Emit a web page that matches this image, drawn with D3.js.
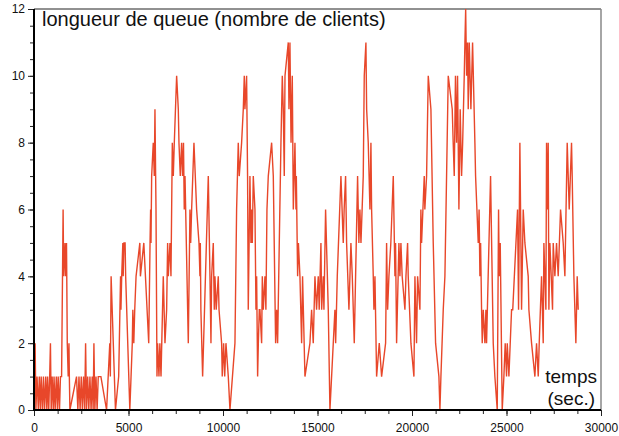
<!DOCTYPE html>
<html>
<head>
<meta charset="utf-8">
<script src="https://cdn.jsdelivr.net/npm/d3@7"></script>
<style>
  body { margin: 0; background: #fff; }
  svg { display: block; font-family: "Liberation Sans", Arial, Helvetica, sans-serif; }
</style>
</head>
<body>
<div id="chart"></div>
<script>
// Event times (seconds) and queue length after each event
const times = [
  0, 60, 100, 160, 230, 280, 340, 380, 450, 500, 560, 620, 680, 720,
  780, 830, 870, 910, 960, 1020, 1060, 1120, 1180, 1240, 1280, 1350, 1400, 1460,
  1540, 1570, 1640, 1670, 1720, 1760, 1810, 1850, 1870, 1900,
  2250, 2320, 2380, 2440, 2500, 2560, 2620, 2680, 2730, 2780, 2840,
  2900, 2960, 3020, 3080, 3130, 3170, 3220, 3280, 3340, 3400,
  3540, 3840, 4010, 4040, 4080, 4310, 4480, 4580, 4600, 4640, 4700, 4720, 4760, 4820, 4850, 5070,
  5200, 5230, 5280, 5330, 5400, 5600, 5630, 5810, 6070,
  6140, 6170, 6190, 6225, 6310, 6365, 6400, 6436, 6455, 6507, 6540, 6612, 6660, 6720,
  6840, 6930, 7018, 7070, 7106, 7194, 7247, 7318, 7370, 7423, 7547, 7635, 7670, 7740, 7810, 7860, 7910, 7950, 7990,
  8164, 8252, 8290, 8340, 8463, 8605, 8730, 8780, 8800, 8830, 8922,
  9222, 9310, 9363, 9398, 9486, 9539, 9574, 9640, 9750, 9790, 9927, 9960, 10033, 10090, 10156, 10280, 10368,
  10632, 10720, 10808, 10860, 10985, 11073, 11126, 11160, 11249, 11300, 11337, 11425, 11478, 11514, 11550, 11602,
  11691, 11744, 11780, 11832, 11870, 11920, 11955, 12044, 12080, 12132, 12220, 12270, 12326, 12396, 12573, 12661, 12784, 12840, 12890,
  13066, 13137, 13190, 13242, 13280, 13454, 13490, 13542, 13600, 13666, 13720, 13807, 13860, 13880, 13948, 13990, 14071, 14160, 14210, 14336,
  14600, 14688, 14775, 14865, 14950, 15040, 15090, 15182, 15220, 15305, 15340, 15428, 15570, 15658,
  15834, 15922, 15960, 16046, 16240, 16363, 16410, 16486, 16540, 16663, 16768, 16840, 16945,
  17121, 17190, 17244, 17300, 17421, 17474, 17562, 17600, 17685, 17730, 17774, 17827, 17863,
  17950, 17985, 18040, 18127, 18268, 18392, 18603, 18656, 18710, 18779, 18880, 19009, 19097, 19130, 19185,
  19308, 19360, 19414, 19480, 19626, 19680, 19767, 19800, 19943, 20102, 20155, 20240, 20296, 20419, 20470, 20507,
  20648, 20680, 20772, 20860, 21001, 21124, 21248, 21424, 21477, 21530, 21653, 21741, 21918,
  22129, 22180, 22235, 22300, 22358, 22410, 22482, 22550, 22623, 22680, 22764, 22800, 22840, 22887, 22940, 22975, 23030, 23116, 23205, 23328, 23364,
  23505, 23550, 23593, 23630, 23681, 23716, 23770, 23857, 23910, 23945, 24157, 24298, 24385, 24510,
  24580, 24615, 24668, 24774, 24862, 24932, 25003, 25040, 25127, 25268, 25330, 25585, 25638, 25708,
  25797, 25885, 25973, 26149, 26185, 26326, 26502, 26590, 26680, 26731, 26854, 26943, 26978, 27084,
  27119, 27155, 27207, 27243, 27295, 27366, 27436, 27472, 27560, 27648, 27736, 27860, 28000, 28089,
  28212, 28318, 28441, 28476, 28565, 28670, 28741, 28794
];
const queueLength = [
  0, 2, 0, 1, 0, 1, 0, 1, 0, 1, 0, 1, 0, 1,
  0, 1, 2, 0, 1, 0, 1, 0, 1, 0, 1, 0, 1, 1,
  6, 4, 5, 4, 5, 2, 1, 2, 1, 0,
  1, 0, 1, 0, 1, 0, 1, 0, 2, 0, 1,
  0, 1, 0, 1, 0, 2, 0, 1, 0, 1,
  1, 0, 2, 1, 4, 0, 1, 4, 3, 4, 5, 4, 5, 5, 4, 0,
  2, 3, 2, 3, 4, 5, 4, 5, 2,
  5, 6, 5, 7, 8, 7, 9, 7, 6, 1, 2, 1, 2, 1,
  4, 2, 3, 5, 4, 5, 4, 8, 7, 8, 10, 9, 8, 7, 8, 7, 8, 6, 7,
  2, 6, 5, 6, 8, 6, 5, 4, 5, 3, 1,
  7, 4, 2, 4, 5, 3, 4, 3, 4, 3, 2, 1, 2, 1, 2, 1, 0,
  2, 6, 8, 7, 8, 9, 10, 9, 10, 7, 3, 7, 5, 6, 5, 7,
  6, 3, 4, 1, 2, 3, 3, 2, 4, 3, 4, 3, 6, 7, 8, 7, 2, 3, 2,
  8, 10, 9, 7, 10, 11, 9, 11, 8, 10, 6, 8, 6, 7, 4, 5, 4, 2, 4, 1,
  2, 3, 2, 4, 3, 4, 3, 5, 3, 4, 3, 6, 3, 0,
  2, 3, 2, 4, 7, 5, 6, 7, 5, 3, 5, 4, 2,
  7, 5, 6, 5, 7, 10, 11, 9, 8, 7, 6, 8, 6,
  4, 3, 4, 1, 2, 1, 2, 5, 3, 4, 5, 7, 4, 5, 2,
  5, 4, 5, 4, 3, 4, 5, 4, 2, 1, 4, 2, 4, 3, 6, 5,
  7, 6, 7, 10, 9, 5, 2, 1, 0, 1, 3, 4, 10,
  9, 8, 7, 10, 8, 10, 6, 9, 7, 8, 10, 11, 12, 10, 11, 9, 11, 9, 11, 8, 7,
  5, 6, 4, 5, 3, 2, 3, 2, 3, 2, 7, 2, 1, 0,
  6, 4, 5, 0, 1, 2, 1, 2, 1, 3, 3, 6, 3, 8,
  3, 6, 5, 4, 3, 2, 1, 2, 1, 2, 4, 2, 5, 3,
  8, 6, 8, 3, 5, 4, 3, 5, 4, 5, 4, 6, 5, 4,
  8, 6, 8, 7, 4, 2, 4, 3
];

// Axis ticks
const xTicks = [0, 5000, 10000, 15000, 20000, 25000, 30000];
const xMinorTicks = d3.range(0, 30001, 1250);
const yTicks = [0, 2, 4, 6, 8, 10, 12];
const yMinorTicks = d3.range(0, 12.01, 0.5);

const width = 619, height = 436;
const plotLeft = 34, plotRight = 601, plotTop = 9, plotBottom = 410;

const svg = d3.select("#chart").append("svg")
    .attr("width", width)
    .attr("height", height);

const x = d3.scaleLinear().domain([0, 30000]).range([plotLeft, plotRight]);
const y = d3.scaleLinear().domain([0, 12]).range([plotBottom, plotTop]);

// top and right frame
svg.append("line")
    .attr("x1", plotLeft).attr("x2", plotRight).attr("y1", plotTop).attr("y2", plotTop)
    .attr("stroke", "#222").attr("stroke-width", 1);
svg.append("line")
    .attr("x1", plotRight).attr("x2", plotRight).attr("y1", plotTop).attr("y2", plotBottom)
    .attr("stroke", "#888").attr("stroke-width", 1.5);

// minor ticks
svg.append("g")
    .attr("transform", `translate(0,${plotBottom})`)
    .call(d3.axisBottom(x).tickValues(xMinorTicks).tickSize(4).tickFormat(""))
    .call(g => g.select(".domain").remove());
svg.append("g")
    .attr("transform", `translate(${plotLeft},0)`)
    .call(d3.axisLeft(y).tickValues(yMinorTicks).tickSize(4).tickFormat(""))
    .call(g => g.select(".domain").remove());

// major ticks with labels
svg.append("g")
    .attr("transform", `translate(0,${plotBottom})`)
    .call(d3.axisBottom(x).tickValues(xTicks).tickSize(6).tickPadding(7).tickFormat(d3.format("d")))
    .call(g => g.select(".domain").remove())
    .call(g => g.selectAll("text").attr("font-size", "12px").attr("fill", "#111")
        .style("font-family", "'Liberation Sans', Arial, sans-serif"));
svg.append("g")
    .attr("transform", `translate(${plotLeft},0)`)
    .call(d3.axisLeft(y).tickValues(yTicks).tickSize(6).tickPadding(3).tickFormat(d3.format("d")))
    .call(g => g.select(".domain").remove())
    .call(g => g.selectAll("text").attr("font-size", "12px").attr("fill", "#111")
        .style("font-family", "'Liberation Sans', Arial, sans-serif"));

svg.selectAll(".tick line").attr("stroke", "#222");

// the queue length line
const points = times.map((t, i) => [t, queueLength[i]]);
const line = d3.line()
    .x(d => x(d[0]))
    .y(d => y(d[1]));

svg.append("path")
    .datum(points)
    .attr("d", line)
    .attr("fill", "none")
    .attr("stroke", "#e8472a")
    .attr("stroke-width", 1.4)
    .attr("stroke-linejoin", "miter");

// thick left and bottom axis lines
svg.append("line")
    .attr("x1", plotLeft).attr("x2", plotLeft).attr("y1", plotTop).attr("y2", plotBottom + 1)
    .attr("stroke", "#000").attr("stroke-width", 2);
svg.append("line")
    .attr("x1", plotLeft - 1).attr("x2", plotRight).attr("y1", plotBottom).attr("y2", plotBottom)
    .attr("stroke", "#000").attr("stroke-width", 2);

// labels
svg.append("text")
    .attr("x", 42)
    .attr("y", 26)
    .attr("font-size", "20px")
    .attr("fill", "#111")
    .text("longueur de queue (nombre de clients)");

svg.append("text")
    .attr("x", 597)
    .attr("y", 383)
    .attr("text-anchor", "end")
    .attr("font-size", "19px")
    .attr("fill", "#111")
    .text("temps");
svg.append("text")
    .attr("x", 595)
    .attr("y", 405)
    .attr("text-anchor", "end")
    .attr("font-size", "19px")
    .attr("fill", "#111")
    .text("(sec.)");
</script>
</body>
</html>
